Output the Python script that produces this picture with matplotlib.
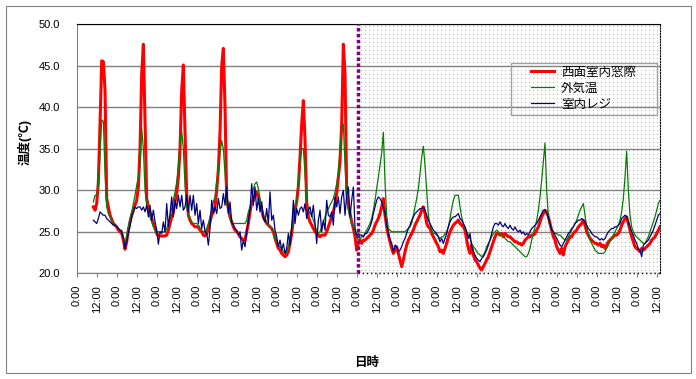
import numpy as np
import matplotlib
matplotlib.use("Agg")
import matplotlib.pyplot as plt
from matplotlib.patches import Rectangle
from matplotlib.ticker import FormatStrFormatter

plt.rcParams['font.family'] = ['Liberation Sans', 'Noto Sans CJK JP']

# ---------------- data (hourly readings, first value at hour 10 of day 1) ----------------
start_hour = 10
end_hour = 350
marker_hour = 169

west_window = [
    28.0, 27.6, 28.4, 31.0, 38.0, 45.6, 45.5, 42.0, 29.0, 28.0, 27.0, 26.5, 26.0, 25.8,
    25.6, 25.2, 25.0, 24.8, 24.0, 22.9, 23.8, 25.2, 26.2, 27.0, 27.6, 28.2, 28.8, 30.4, 35.0, 44.0, 47.6, 38.0, 29.0, 28.0, 27.3, 26.6, 26.0, 25.4,
    24.8, 24.5, 24.5, 24.5, 24.5, 24.5, 24.6, 25.2, 26.0, 26.8, 27.4, 28.6, 29.6, 31.6, 35.0, 42.0, 45.1, 37.0, 29.5, 27.0, 26.4, 26.0, 25.8, 25.6,
    25.6, 25.6, 25.2, 25.0, 24.6, 24.5, 24.8, 25.4, 26.2, 27.0, 27.4, 28.0, 30.0, 32.5, 37.0, 45.0, 47.1, 40.0, 29.0, 27.8, 26.8, 26.2, 25.6, 25.2,
    25.0, 24.8, 24.4, 24.2, 24.0, 24.0, 25.0, 26.0, 27.4, 28.4, 28.8, 29.4, 29.8, 29.2, 28.6, 27.6, 26.8, 26.4, 26.0, 25.8, 25.6, 25.4, 25.0, 24.2,
    23.6, 23.0, 22.8, 22.4, 22.2, 22.0, 22.2, 22.6, 23.6, 24.8, 26.4, 27.6, 28.6, 30.5, 34.0, 38.0, 40.8, 36.0, 28.5, 26.8, 26.2, 25.8, 25.4, 25.0,
    24.8, 24.6, 24.4, 24.6, 24.6, 24.6, 25.0, 25.6, 26.2, 26.8, 27.4, 28.4, 29.6, 31.6, 33.5, 38.0, 47.6, 44.0, 30.0, 28.4, 27.2, 26.2, 25.4, 24.4,
    22.8, 23.6, 24.0, 23.6, 24.0, 24.0, 24.2, 24.4, 24.6, 24.8, 25.2, 25.8, 26.2, 26.6, 27.2, 28.0, 29.0, 27.0, 25.6, 24.6, 23.8, 23.0, 22.4, 22.8,
    23.2, 22.4, 21.6, 20.8, 21.6, 22.6, 23.4, 24.0, 24.4, 24.8, 25.2, 25.8, 26.2, 26.6, 27.0, 27.6, 28.0, 27.2, 26.0, 25.6, 25.4, 24.8, 24.4, 24.0,
    23.6, 23.2, 22.6, 22.8, 22.4, 23.0, 23.6, 24.4, 25.0, 25.4, 25.8, 26.0, 26.2, 26.4, 26.0, 25.8, 25.6, 25.2, 24.0, 23.0, 22.4, 23.4, 22.2, 21.6,
    21.4, 21.0, 20.6, 20.4, 20.8, 21.2, 21.6, 22.0, 22.6, 23.2, 23.8, 24.4, 24.8, 24.8, 24.6, 24.8, 24.4, 24.8, 24.6, 24.4, 24.4, 24.2, 24.0, 23.8,
    23.8, 23.6, 23.6, 23.4, 23.6, 24.0, 24.2, 24.4, 24.4, 24.6, 24.6, 24.8, 25.2, 25.6, 26.2, 26.8, 27.2, 27.6, 27.4, 26.8, 26.0, 25.2, 24.4, 24.0,
    23.2, 22.8, 22.4, 23.0, 22.2, 23.2, 23.6, 24.0, 24.4, 24.4, 24.8, 25.0, 25.2, 25.6, 25.8, 26.0, 26.4, 25.8, 25.0, 24.6, 24.2, 24.0, 23.8, 23.6,
    23.6, 23.4, 23.6, 23.2, 23.4, 23.0, 23.4, 23.8, 24.0, 24.2, 24.4, 24.6, 24.6, 24.8, 25.2, 25.8, 26.2, 26.6, 26.8, 26.0, 25.2, 24.4, 23.8, 23.2,
    23.0, 22.8, 22.6, 23.0, 22.8, 23.0, 23.2, 23.4, 23.6, 24.0, 24.2, 24.4, 24.8, 25.2, 25.6,
]

outdoor = [
    28.6, 29.4, 29.4, 30.5, 34.5, 38.5, 38.3, 32.0, 28.0, 27.2, 26.8, 26.4, 26.0, 25.8,
    25.6, 25.4, 25.2, 25.2, 24.4, 23.4, 24.6, 25.6, 26.6, 27.4, 28.4, 29.4, 30.6, 31.6, 33.0, 37.5, 35.0, 30.0, 28.2, 27.4, 26.8, 26.2, 25.6, 25.2,
    25.0, 25.0, 25.0, 25.0, 25.0, 25.0, 25.4, 26.0, 26.8, 27.8, 28.8, 29.8, 31.0, 32.8, 35.8, 37.1, 35.0, 30.5, 28.0, 27.0, 26.6, 26.2, 26.0, 26.0,
    26.0, 25.8, 25.4, 25.2, 25.0, 25.0, 25.4, 26.0, 26.8, 27.6, 28.6, 29.2, 31.0, 32.0, 34.5, 36.0, 35.0, 32.0, 28.5, 27.4, 26.6, 26.0, 26.0, 26.0,
    26.0, 26.0, 26.0, 26.0, 26.0, 26.0, 26.4, 27.4, 28.0, 28.6, 30.2, 30.8, 31.0, 30.2, 29.0, 27.8, 27.0, 26.4, 26.0, 25.8, 25.6, 25.4, 25.0, 24.2,
    23.8, 23.4, 23.2, 23.0, 22.6, 22.4, 22.6, 23.2, 24.2, 25.4, 26.8, 28.0, 28.8, 31.0, 33.5, 35.0, 35.0, 32.0, 29.0, 27.6, 27.2, 27.0, 26.4, 25.8,
    25.0, 24.8, 25.0, 25.6, 26.2, 26.8, 27.4, 27.8, 28.2, 28.6, 29.0, 29.8, 30.8, 32.0, 34.9, 37.3, 38.0, 33.0, 28.8, 27.6, 26.8, 26.0, 25.6, 25.0,
    24.4, 24.0, 24.2, 24.4, 24.4, 24.8, 25.2, 25.6, 26.0, 26.6, 27.6, 28.8, 30.2, 31.6, 33.0, 34.5, 37.0, 31.0, 27.0, 25.4, 25.2, 25.0, 25.0, 25.0,
    25.0, 25.0, 25.0, 25.0, 25.0, 25.0, 25.2, 25.4, 25.6, 26.0, 27.0, 28.0, 29.0, 30.2, 32.0, 34.0, 35.3, 33.0, 30.0, 27.0, 25.8, 25.2, 24.8, 24.8,
    24.6, 24.4, 24.2, 24.4, 24.4, 24.8, 25.0, 25.6, 26.6, 27.8, 28.8, 29.4, 29.4, 29.4, 28.0, 26.8, 26.0, 25.4, 25.0, 24.6, 24.2, 23.6, 23.2, 23.0,
    22.6, 22.4, 22.2, 22.0, 22.2, 22.6, 23.2, 23.6, 24.0, 24.4, 24.8, 25.0, 25.2, 25.0, 24.8, 24.6, 24.4, 24.2, 24.0, 23.8, 23.8, 23.6, 23.4, 23.2,
    23.0, 22.8, 22.6, 22.4, 22.2, 22.0, 22.0, 22.4, 23.0, 24.0, 24.8, 25.6, 26.4, 27.6, 29.2, 31.2, 33.5, 35.7, 30.0, 27.0, 25.6, 25.2, 25.0, 24.8,
    24.8, 24.6, 24.6, 24.4, 24.2, 24.0, 24.0, 24.4, 24.8, 25.2, 25.6, 26.0, 26.4, 27.0, 27.6, 28.0, 28.4, 27.0, 25.6, 24.8, 24.0, 23.6, 23.2, 22.8,
    22.6, 22.4, 22.4, 22.4, 22.4, 22.6, 23.0, 23.4, 23.8, 24.2, 24.6, 25.0, 25.4, 25.8, 26.4, 27.4, 29.0, 31.6, 34.7, 30.0, 27.0, 25.6, 25.0, 24.6,
    24.4, 24.2, 24.0, 23.8, 23.6, 23.6, 24.0, 24.4, 25.0, 25.6, 26.2, 26.8, 27.6, 28.4, 28.8,
]

register = [
    26.4, 26.2, 26.0, 26.6, 27.4, 27.2, 27.0, 27.0, 26.6, 26.4, 26.2, 26.0, 25.8, 25.8,
    25.6, 25.4, 25.2, 25.0, 24.2, 23.0, 23.8, 24.8, 25.8, 26.8, 27.4, 28.0, 27.8, 28.0, 28.0, 27.6, 28.0, 27.4, 28.2, 26.8, 28.2, 26.4, 27.6, 26.2,
    25.2, 23.5, 25.0, 24.8, 26.2, 25.0, 28.4, 25.6, 27.2, 29.2, 26.8, 28.8, 27.8, 29.4, 28.0, 29.4, 27.6, 28.0, 29.4, 27.4, 29.4, 27.6, 29.4, 27.0,
    28.4, 26.0, 27.6, 25.4, 26.4, 25.0, 24.8, 23.4, 25.4, 28.8, 27.2, 28.0, 27.2, 29.0, 27.8, 28.0, 29.6, 28.2, 30.4, 27.2, 28.6, 26.2, 25.8, 25.4,
    25.2, 24.6, 25.0, 22.8, 24.0, 23.2, 25.0, 26.4, 27.6, 30.8, 28.2, 30.4, 27.6, 29.0, 27.4, 28.6, 26.6, 26.2, 27.8, 26.0, 29.8, 26.4, 27.0, 25.2,
    24.4, 23.2, 24.0, 22.8, 23.6, 22.4, 23.0, 24.8, 23.4, 25.4, 28.8, 26.0, 27.8, 27.0, 27.8, 28.0, 27.4, 28.4, 26.6, 27.6, 28.0, 26.8, 28.2, 26.0,
    23.6, 26.4, 27.6, 25.0, 26.4, 25.2, 28.8, 27.0, 26.8, 27.4, 25.8, 29.2, 28.0, 29.2, 27.2, 29.2, 30.0, 27.0, 29.4, 30.4, 26.8, 28.8, 30.4, 25.4,
    24.6, 24.8, 24.6, 24.6, 24.4, 24.8, 24.8, 25.2, 25.6, 26.2, 27.2, 28.0, 28.8, 29.2, 29.0, 28.6, 28.0, 27.2, 25.8, 24.8, 24.0, 23.6, 22.6, 23.4,
    23.2, 22.6, 22.8, 23.2, 23.8, 24.2, 24.8, 25.4, 25.8, 26.4, 26.8, 27.2, 27.4, 27.6, 27.8, 27.8, 28.0, 27.6, 27.0, 26.4, 26.0, 25.6, 25.2, 25.0,
    24.8, 24.4, 23.8, 24.2, 23.6, 24.2, 24.8, 25.6, 26.2, 26.6, 26.8, 26.8, 27.0, 27.2, 26.6, 26.4, 26.0, 25.6, 25.0, 24.2, 24.8, 23.2, 22.6, 22.2,
    21.8, 21.6, 21.4, 21.8, 22.0, 22.4, 22.8, 23.4, 24.0, 24.8, 25.6, 26.0, 26.0, 25.8, 26.2, 25.8, 25.6, 26.0, 25.6, 25.4, 25.8, 25.4, 25.2, 25.6,
    25.2, 25.0, 25.2, 24.8, 25.0, 24.6, 24.8, 24.6, 25.0, 25.4, 25.6, 25.8, 26.0, 26.4, 26.8, 27.2, 27.6, 27.6, 27.2, 26.8, 26.0, 25.2, 25.0, 24.6,
    24.2, 23.8, 23.4, 23.2, 23.6, 24.0, 24.4, 24.8, 25.0, 25.4, 25.6, 26.0, 26.2, 26.4, 26.4, 26.6, 26.4, 26.2, 25.8, 25.4, 25.2, 24.8, 24.6, 24.4,
    24.4, 24.2, 24.0, 24.2, 24.0, 24.2, 24.6, 25.0, 25.2, 25.4, 25.4, 25.6, 25.6, 25.8, 26.0, 26.6, 26.8, 27.0, 26.8, 26.2, 25.6, 25.0, 24.6, 24.0,
    23.6, 23.0, 22.8, 22.0, 23.4, 23.6, 23.8, 24.0, 24.4, 24.8, 25.2, 25.8, 26.4, 27.0, 27.2,
]

series_names = ["西面室内窓際", "外気温", "室内レジ"]
tick_hours = list(range(0, 349, 12))
tick_labels = ["0:00", "12:00"] * 15
y_ticks = [20, 25, 30, 35, 40, 45, 50]
y_label = "温度(℃)"
x_label = "日時"

# ---------------- figure ----------------
W, H = 696, 379
fig = plt.figure(figsize=(W / 100, H / 100), dpi=100)
ax_l, ax_r, ax_t, ax_b = 76.7, 660.0, 24.3, 273.3
ax = fig.add_axes([ax_l / W, 1 - ax_b / H, (ax_r - ax_l) / W, (ax_b - ax_t) / H])
ax.set_xlim(0, end_hour)
ax.set_ylim(20, 50)
ax.patch.set_visible(False)

# dotted background to the right of the marker: pixel-exact, sparse cyan dots
x0_px = int(round(ax_l + marker_hour / end_hour * (ax_r - ax_l))) + 1
x1_px = int(round(ax_r))
y0_px = int(round(H - ax_b))
y1_px = int(round(H - ax_t))
pat = np.ones((y1_px - y0_px, x1_px - x0_px, 4))
pat[..., 3] = 0.0
pat[2::4, 2::4] = [0.0, 1.0, 1.0, 1.0]
fig.figimage(pat, xo=x0_px, yo=y0_px, origin='lower', zorder=-1)

ax.set_axisbelow(True)
ax.yaxis.grid(True, color='#808080', lw=1.0)
ax.set_yticks(y_ticks)
ax.yaxis.set_major_formatter(FormatStrFormatter('%.1f'))
ax.tick_params(axis='y', length=0, pad=12, labelsize=8)
ax.set_xticks(tick_hours)
ax.set_xticklabels(tick_labels, rotation=90)
ax.tick_params(axis='x', length=3, width=0.8, color='#808080', direction='out',
               pad=5.5, labelsize=8)

hours_r = start_hour + np.arange(len(west_window))
hours_g = start_hour + np.arange(len(outdoor))
hours_b = start_hour + np.arange(len(register))
l1, = ax.plot(hours_r, west_window, color='#FF0000', lw=2.2, zorder=3)
l2, = ax.plot(hours_g, outdoor, color='#008000', lw=0.9, zorder=4)
l3, = ax.plot(hours_b, register, color='#000080', lw=0.9, zorder=5)

ax.axvline(marker_hour, color='#800080', lw=2.5, linestyle=(0, (1, 0.7)),
           dash_capstyle='butt', zorder=6)

for s in ['left', 'bottom']:
    ax.spines[s].set_color('#808080')
ax.spines['top'].set_color('black')
ax.spines['right'].set_color('black')
ax.spines['right'].set_linestyle((0, (1, 1.5)))
ax.spines['bottom'].set_bounds(0, marker_hour)
ax.plot([marker_hour, end_hour], [20, 20], color='black', lw=1.0,
        linestyle=(0, (1, 2)), clip_on=False, zorder=6)

# legend
leg = ax.legend([l1, l2, l3], series_names, loc='upper left',
                bbox_to_anchor=((531 - ax_l) / (ax_r - ax_l), (ax_b - 66.5) / (ax_b - ax_t)),
                frameon=False, borderpad=0, borderaxespad=0, fontsize=9,
                handlelength=1.8, handletextpad=0.6, labelspacing=0.33)
leg.set_zorder(10)
ax.add_patch(Rectangle(((511 - ax_l) / (ax_r - ax_l), (ax_b - 115) / (ax_b - ax_t)),
                       (657 - 511) / (ax_r - ax_l), (115 - 63.3) / (ax_b - ax_t),
                       transform=ax.transAxes, fill=False, ec='#A0A0A0', lw=1.0,
                       zorder=9))

fig.text(25 / W, 1 - 142 / H, y_label, rotation=90, ha='center', va='center',
         fontsize=9, fontweight='bold')
fig.text(367 / W, 1 - 363 / H, x_label, ha='center', va='center',
         fontsize=9, fontweight='bold')

fig.patches.append(Rectangle((5.5 / W, 1 - 372.5 / H), (690.5 - 5.5) / W, (372.5 - 5.5) / H,
                             transform=fig.transFigure, fill=False, ec='#808080', lw=0.8))

fig.savefig('out.png', dpi=100)
